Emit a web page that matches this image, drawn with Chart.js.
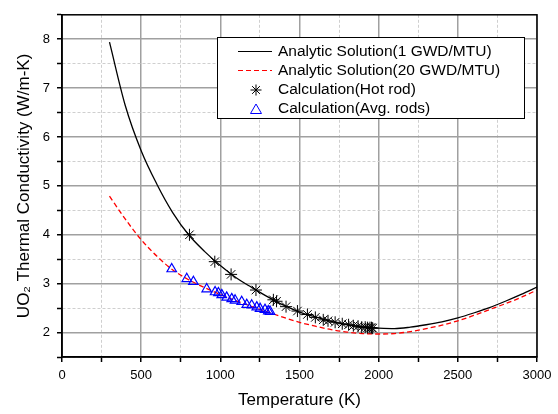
<!DOCTYPE html>
<html><head><meta charset="utf-8">
<script src="https://cdn.jsdelivr.net/npm/chart.js@4.4.0/dist/chart.umd.min.js"></script>
<style>html,body{margin:0;padding:0;background:#fff}#wrap{width:558px;height:414px}</style>
</head><body><div id="wrap"><canvas id="c" width="558" height="414"></canvas></div>
<script>
const temps = [300,400,500,600,700,800,900,1000,1100,1200,1300,1400,1500,1600,1700,1800,1900,2000,2100,2200,2300,2400,2500,2600,2700,2800,2900,3000];
const k1 = [7.94,6.64,5.72,5.03,4.45,4.0,3.66,3.37,3.12,2.92,2.73,2.56,2.42,2.32,2.23,2.16,2.11,2.09,2.08,2.11,2.16,2.22,2.30,2.40,2.51,2.64,2.78,2.93];
const k20 = [4.79,4.32,3.90,3.56,3.28,3.08,2.92,2.78,2.65,2.53,2.42,2.31,2.21,2.13,2.06,2.01,1.98,1.97,1.98,2.02,2.08,2.15,2.24,2.35,2.47,2.59,2.72,2.87];
const hotT = [805,965,1068,1225,1335,1355,1415,1487,1550,1600,1650,1680,1725,1770,1810,1840,1870,1893,1915,1930,1945,1955,1962];
const hotK = [4.00,3.45,3.19,2.87,2.67,2.64,2.53,2.44,2.37,2.31,2.26,2.24,2.21,2.18,2.16,2.14,2.13,2.11,2.11,2.10,2.10,2.10,2.09];
const avgT = [693,788,830,914,967,988,1009,1040,1072,1093,1135,1167,1198,1230,1251,1282,1303,1314];
const avgK = [3.30,3.10,3.04,2.89,2.83,2.81,2.77,2.72,2.69,2.66,2.63,2.57,2.56,2.52,2.49,2.47,2.44,2.43];
const labels = ['Analytic Solution(1 GWD/MTU)','Analytic Solution(20 GWD/MTU)','Calculation(Hot rod)','Calculation(Avg. rods)'];
const xTickLabels = [0,500,1000,1500,2000,2500,3000];
const yTickLabels = [2,3,4,5,6,7,8];

const zip = (a,b) => a.map((v,i)=>({x:v,y:b[i]}));
const FONT = 'Liberation Sans, Arial, sans-serif';

const frameAndLegend = {
  id:'frameAndLegend',
  afterDraw(chart){
    const ctx = chart.ctx, a = chart.chartArea;
    ctx.save();
    ctx.strokeStyle = '#000'; ctx.lineWidth = 1.5;
    ctx.strokeRect(a.left, a.top, a.right-a.left, a.bottom-a.top);
    const bx=217, by=37, bw=307, bh=81;
    ctx.fillStyle='#fff'; ctx.fillRect(bx,by,bw,bh);
    ctx.lineWidth=1; ctx.strokeStyle='#000'; ctx.strokeRect(bx+0.5,by+0.5,bw,bh);
    const rows=[51.5,70.5,90,108.5];
    ctx.font = '15.5px '+FONT; ctx.textBaseline='middle'; ctx.fillStyle='#000';
    rows.forEach((y,i)=>{ ctx.fillText(labels[i], 278, y); });
    ctx.beginPath(); ctx.strokeStyle='#000'; ctx.lineWidth=1.2;
    ctx.moveTo(238,rows[0]); ctx.lineTo(272,rows[0]); ctx.stroke();
    ctx.beginPath(); ctx.strokeStyle='#ff0000'; ctx.setLineDash([5,3]);
    ctx.moveTo(238,rows[1]); ctx.lineTo(272,rows[1]); ctx.stroke();
    ctx.setLineDash([]);
    const sx=256, sy=rows[2], r=5.5;
    ctx.beginPath(); ctx.strokeStyle='#000'; ctx.lineWidth=1;
    for(let k=0;k<4;k++){const an=k*Math.PI/4; ctx.moveTo(sx-r*Math.cos(an),sy-r*Math.sin(an)); ctx.lineTo(sx+r*Math.cos(an),sy+r*Math.sin(an));}
    ctx.stroke();
    const tx=256, ty=rows[3]+1;
    ctx.beginPath(); ctx.strokeStyle='#0000ff';
    ctx.moveTo(tx,ty-5.5); ctx.lineTo(tx+5.5,ty+4); ctx.lineTo(tx-5.5,ty+4); ctx.closePath(); ctx.stroke();
    ctx.restore();
  }
};

new Chart(document.getElementById('c'), {
  type:'scatter',
  data:{datasets:[
    {label:labels[0], data:zip(temps,k1), showLine:true, borderColor:'#000', borderWidth:1.3, pointRadius:0, cubicInterpolationMode:'monotone', order:4},
    {label:labels[1], data:zip(temps,k20), showLine:true, borderColor:'#ff0000', borderWidth:1.3, borderDash:[5,3], pointRadius:0, cubicInterpolationMode:'monotone', order:3},
    {label:labels[2], data:zip(hotT,hotK), showLine:false, pointStyle:'star', pointRadius:6, borderColor:'#000', backgroundColor:'#000', pointBorderWidth:1, order:2},
    {label:labels[3], data:zip(avgT,avgK), showLine:false, pointStyle:'triangle', pointRadius:5.5, borderColor:'#0000ff', backgroundColor:'rgba(0,0,0,0)', pointBorderWidth:1.2, order:1}
  ]},
  options:{
    responsive:false, animation:false, devicePixelRatio:1,
    layout:{padding:{top:7,right:21,left:0,bottom:0}},
    plugins:{legend:{display:false}, tooltip:{enabled:false}},
    scales:{
      x:{type:'linear', min:0, max:3000,
        afterFit(s){s.height=57;},
        ticks:{stepSize:250, autoSkip:false, maxRotation:0, padding:6, color:'#000', font:{family:FONT,size:13},
          callback:v=> xTickLabels.includes(v) ? String(v) : ''},
        grid:{color:c=> (c.tick && c.tick.value%500===0) ? '#a0a0a0' : '#cfcfcf',
              lineWidth:c=> (c.tick && c.tick.value%500===0) ? 1.5 : 1,
              tickColor:'#000', tickLength:5, tickWidth:1.5},
        border:{display:true, color:'#000', width:1.5, dash:c=> (c.tick && c.tick.value%500===0) ? [] : [3,2]},
        title:{display:true, text:'Temperature (K)', color:'#000', font:{family:FONT,size:17}, padding:{top:0,bottom:3}}
      },
      y:{type:'linear', min:1.5, max:8.5,
        afterFit(s){s.width=62;},
        ticks:{stepSize:0.5, autoSkip:false, padding:7, color:'#000', font:{family:FONT,size:13},
          callback:v=> yTickLabels.includes(v) ? String(v) : ''},
        grid:{color:c=> (c.tick && Number.isInteger(c.tick.value)) ? '#a0a0a0' : '#cfcfcf',
              lineWidth:c=> (c.tick && Number.isInteger(c.tick.value)) ? 1.5 : 1,
              tickColor:'#000', tickLength:5, tickWidth:1.5},
        border:{display:true, color:'#000', width:1.5, dash:c=> (c.tick && Number.isInteger(c.tick.value)) ? [] : [3,2]},
        title:{display:true, text:'UO₂ Thermal Conductivity (W/m-K)', color:'#000', font:{family:FONT,size:17}, padding:{top:14,bottom:0}}
      }
    }
  },
  plugins:[frameAndLegend]
});
</script></body></html>
